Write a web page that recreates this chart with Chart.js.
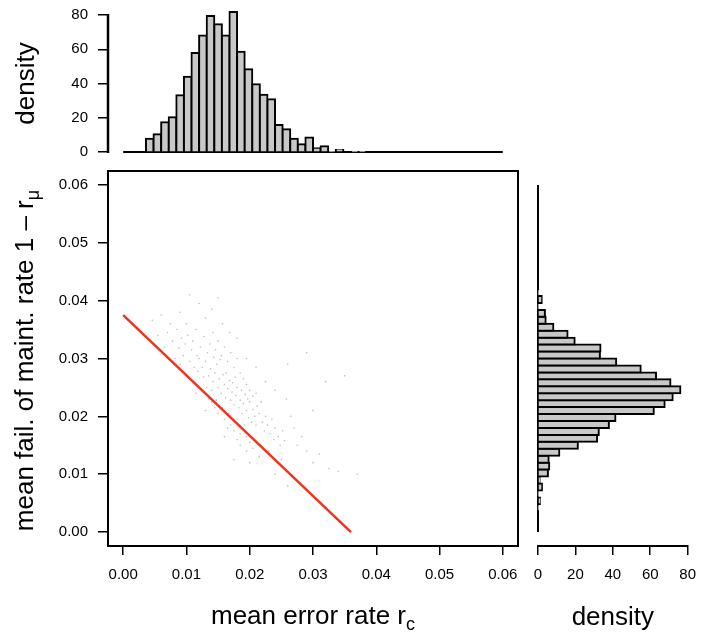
<!DOCTYPE html>
<html>
<head>
<meta charset="utf-8">
<script src="https://cdn.jsdelivr.net/npm/chart.js@4.4.0/dist/chart.umd.min.js"></script>
<style>
  html, body { margin: 0; padding: 0; background: #fff; }
  #wrap { position: relative; width: 707px; height: 641px; }
  #wrap canvas { position: absolute; left: 0; top: 0; }
</style>
</head>
<body>
<div id="wrap">
  <canvas id="mainChart" width="707" height="641"></canvas>
  <canvas id="sideChart" width="707" height="641"></canvas>
  <canvas id="topChart" width="707" height="641"></canvas>
</div>
<script>
// --- Datos ---
// histograma superior: centro de cada clase (ancho 0.0012) y densidad
const errBinMid = [0.0042, 0.0054, 0.0066, 0.0078, 0.0090, 0.0102, 0.0114, 0.0126, 0.0138, 0.0150,
  0.0162, 0.0174, 0.0186, 0.0198, 0.0210, 0.0222, 0.0234, 0.0246, 0.0258, 0.0270,
  0.0282, 0.0294, 0.0306, 0.0318, 0.0330, 0.0342, 0.0354, 0.0366, 0.0378];
const errDensity = [7.8, 10.3, 17.3, 20.3, 33.1, 44.0, 57.8, 68.1, 79.4, 74.6,
  68.0, 81.8, 58.6, 48.3, 39.5, 33.5, 30.8, 15.8, 13.3, 7.8,
  4.5, 8.4, 2.2, 3.3, 0.4, 1.2, 0, 0.4, 0.4];

// histograma lateral (1 - r_mu)
const failBinMid = [0.0042, 0.0054, 0.0066, 0.0078, 0.0090, 0.0102, 0.0114, 0.0126, 0.0138, 0.0150,
  0.0162, 0.0174, 0.0186, 0.0198, 0.0210, 0.0222, 0.0234, 0.0246, 0.0258, 0.0270,
  0.0282, 0.0294, 0.0306, 0.0318, 0.0330, 0.0342, 0.0354, 0.0366, 0.0378, 0.0390,
  0.0402, 0.0414];
const failDensity = [0.3, 1.0, 0.3, 2.1, 0.9, 5.3, 6.0, 5.7, 11.4, 21.3,
  31.6, 32.5, 37.9, 41.4, 61.9, 67.7, 72.0, 76.1, 70.8, 63.1,
  54.9, 41.8, 33.1, 33.4, 19.6, 15.8, 8.2, 4.1, 3.7, 0.3,
  2.0, 0.4];

// nube de puntos (estimada a ojo)
const cloud = [
  [0.0120,0.0300],[0.0125,0.0285],[0.0130,0.0295],[0.0135,0.0270],[0.0138,0.0282],[0.0142,0.0260],
  [0.0145,0.0275],[0.0148,0.0290],[0.0150,0.0250],[0.0152,0.0265],[0.0155,0.0240],[0.0158,0.0272],
  [0.0160,0.0255],[0.0162,0.0232],[0.0165,0.0248],[0.0168,0.0262],[0.0170,0.0228],[0.0172,0.0242],
  [0.0175,0.0220],[0.0178,0.0236],[0.0180,0.0250],[0.0183,0.0215],[0.0185,0.0228],[0.0188,0.0205],
  [0.0190,0.0222],[0.0193,0.0238],[0.0195,0.0210],[0.0198,0.0198],[0.0200,0.0225],[0.0203,0.0190],
  [0.0205,0.0212],[0.0208,0.0200],[0.0210,0.0185],[0.0140,0.0245],[0.0133,0.0310],[0.0127,0.0268],
  [0.0118,0.0278],[0.0147,0.0228],[0.0157,0.0215],[0.0163,0.0275],[0.0173,0.0258],[0.0181,0.0195],
  [0.0192,0.0185],[0.0167,0.0205],[0.0153,0.0298],[0.0143,0.0302],[0.0177,0.0268],[0.0187,0.0245],
  [0.0197,0.0230],[0.0212,0.0218],
  [0.0070,0.0345],[0.0078,0.0330],[0.0085,0.0350],[0.0088,0.0318],[0.0092,0.0335],[0.0095,0.0305],
  [0.0098,0.0325],[0.0102,0.0340],[0.0105,0.0295],[0.0108,0.0315],[0.0110,0.0330],[0.0112,0.0285],
  [0.0115,0.0350],[0.0117,0.0305],[0.0122,0.0320],[0.0128,0.0338],[0.0132,0.0250],[0.0137,0.0325],
  [0.0142,0.0345],[0.0146,0.0315],[0.0150,0.0330],[0.0155,0.0305],[0.0160,0.0320],[0.0165,0.0295],
  [0.0170,0.0310],[0.0175,0.0285],[0.0180,0.0300],[0.0185,0.0275],[0.0190,0.0265],[0.0195,0.0255],
  [0.0200,0.0245],[0.0205,0.0235],[0.0210,0.0240],[0.0215,0.0205],[0.0218,0.0225],[0.0220,0.0190],
  [0.0223,0.0175],[0.0225,0.0200],[0.0228,0.0185],[0.0232,0.0170],[0.0235,0.0195],[0.0238,0.0160],
  [0.0240,0.0180],[0.0245,0.0165],[0.0248,0.0150],[0.0252,0.0175],[0.0255,0.0158],[0.0150,0.0205],
  [0.0145,0.0215],[0.0140,0.0225],[0.0135,0.0230],[0.0160,0.0195],[0.0170,0.0185],[0.0175,0.0175],
  [0.0185,0.0170],[0.0195,0.0165],[0.0200,0.0155],[0.0205,0.0145],[0.0180,0.0160],[0.0165,0.0180],
  [0.0046,0.0366],[0.0055,0.0340],[0.0060,0.0375],[0.0065,0.0320],[0.0075,0.0360],[0.0082,0.0300],
  [0.0090,0.0380],[0.0100,0.0360],[0.0105,0.0410],[0.0120,0.0395],[0.0130,0.0370],[0.0140,0.0385],
  [0.0150,0.0405],[0.0157,0.0360],[0.0168,0.0345],[0.0180,0.0335],[0.0195,0.0300],[0.0210,0.0285],
  [0.0225,0.0260],[0.0240,0.0245],[0.0258,0.0230],[0.0265,0.0200],[0.0270,0.0180],[0.0275,0.0150],
  [0.0282,0.0165],[0.0290,0.0140],[0.0300,0.0120],[0.0310,0.0135],[0.0325,0.0110],[0.0340,0.0105],
  [0.0370,0.0100],[0.0250,0.0125],[0.0230,0.0140],[0.0215,0.0130],[0.0195,0.0140],[0.0185,0.0150],
  [0.0160,0.0165],[0.0130,0.0210],[0.0115,0.0240],[0.0100,0.0270],[0.0090,0.0290],[0.0300,0.0210],
  [0.0320,0.0260],[0.0350,0.0270],[0.0290,0.0310],[0.0260,0.0290],[0.0240,0.0100],[0.0200,0.0120],
  [0.0260,0.0080],[0.0175,0.0125]
];

// recta roja
const lineX = [0, 0.036];
const lineY = [0.0375, 0];

// marcas y límites de los ejes
const rateTicks = [0, 0.01, 0.02, 0.03, 0.04, 0.05, 0.06];
const densTicks = [0, 20, 40, 60, 80];
const rateRange = [0, 0.06];
const rateLimits = [-0.0024, 0.0624];

// --- Configuración común ---
Chart.defaults.font.family = '"Liberation Sans", Arial, Helvetica, sans-serif';
Chart.defaults.font.size = 15;
Chart.defaults.color = '#000';

const FONT = '"Liberation Sans", Arial, Helvetica, sans-serif';
const fixTicks = vals => scale => { scale.ticks = vals.map(v => ({ value: v })); };
const tickGrid = { drawOnChartArea: false, color: '#000', lineWidth: 1.5, offset: false };
const noPlugins = { legend: { display: false }, tooltip: { enabled: false } };
const blackLine = { type: 'line', borderColor: '#000', borderWidth: 2, pointRadius: 0, clip: false };

// caja alrededor del panel principal
const boxPlugin = {
  id: 'box',
  afterDatasetsDraw(chart) {
    const { ctx, chartArea: a } = chart;
    ctx.save();
    ctx.strokeStyle = '#000';
    ctx.lineWidth = 2;
    ctx.strokeRect(a.left, a.top, a.right - a.left, a.bottom - a.top);
    ctx.restore();
  }
};

// texto con subíndice
function drawRich(ctx, parts, cx, cy, rot) {
  ctx.save();
  ctx.translate(cx, cy);
  ctx.rotate(rot);
  ctx.textBaseline = 'middle';
  ctx.textAlign = 'left';
  ctx.fillStyle = '#000';
  let total = 0;
  parts.forEach(p => {
    ctx.font = (p.sub ? 18 : 26) + 'px ' + FONT;
    p.w = ctx.measureText(p.t).width;
    total += p.w;
  });
  let x = -total / 2;
  parts.forEach(p => {
    ctx.font = (p.sub ? 18 : 26) + 'px ' + FONT;
    ctx.fillText(p.t, x, p.sub ? 8 : 0);
    x += p.w;
  });
  ctx.restore();
}

const titlesPlugin = {
  id: 'titles',
  afterDraw(chart) {
    const a = chart.chartArea;
    drawRich(chart.ctx, [{ t: 'mean error rate r' }, { t: 'c', sub: true }],
      (a.left + a.right) / 2, 617, 0);
    drawRich(chart.ctx, [{ t: 'mean fail. of maint. rate 1 \u2013 r' }, { t: '\u03bc', sub: true }],
      26, (a.top + a.bottom) / 2 + 2, -Math.PI / 2);
  }
};

// línea del eje de densidad (de la primera a la última marca)
const densAxisLine = {
  id: 'densAxisLine',
  afterDraw(chart) {
    const s = chart.scales.y;
    const ctx = chart.ctx;
    ctx.save();
    ctx.strokeStyle = '#000';
    ctx.lineWidth = 2.5;
    ctx.beginPath();
    ctx.moveTo(s.right, s.getPixelForValue(densTicks[0]) + 1);
    ctx.lineTo(s.right, s.getPixelForValue(densTicks[densTicks.length - 1]) - 1);
    ctx.stroke();
    ctx.restore();
  }
};

// --- Panel principal ---
new Chart(document.getElementById('mainChart'), {
  type: 'scatter',
  data: {
    datasets: [
      {
        data: cloud.map(p => ({ x: p[0], y: p[1] })),
        pointRadius: 0.8,
        pointBorderWidth: 0,
        pointBackgroundColor: 'rgba(90,90,90,0.4)'
      },
      {
        type: 'line',
        data: lineX.map((x, i) => ({ x: x, y: lineY[i] })),
        borderColor: '#f4321c',
        borderWidth: 2.5,
        pointRadius: 0,
        fill: false
      }
    ]
  },
  options: {
    responsive: false,
    animation: false,
    layout: { padding: { left: 0, right: 189, top: 171, bottom: 0 } },
    plugins: noPlugins,
    scales: {
      x: {
        type: 'linear', min: rateLimits[0], max: rateLimits[1],
        afterBuildTicks: fixTicks(rateTicks),
        afterFit: s => { s.height = 95; },
        border: { display: false },
        grid: Object.assign({ tickLength: 9 }, tickGrid),
        ticks: { padding: 11, autoSkip: false, maxRotation: 0, callback: v => v.toFixed(2) }
      },
      y: {
        type: 'linear', min: rateLimits[0], max: rateLimits[1],
        afterBuildTicks: fixTicks(rateTicks),
        afterFit: s => { s.width = 108; },
        border: { display: false },
        grid: Object.assign({ tickLength: 10 }, tickGrid),
        ticks: { padding: 10, autoSkip: false, callback: v => v.toFixed(2) }
      }
    }
  },
  plugins: [boxPlugin, titlesPlugin]
});

// --- Histograma lateral ---
new Chart(document.getElementById('sideChart'), {
  type: 'bar',
  data: {
    datasets: [
      {
        data: failBinMid.map((y, i) => ({ x: failDensity[i], y: y })),
        backgroundColor: '#c8c8c8',
        borderColor: '#000',
        borderWidth: 2,
        inflateAmount: 1,
        barPercentage: 1,
        categoryPercentage: 1,
        clip: false
      },
      Object.assign({ data: rateRange.map(y => ({ x: 0, y: y })) }, blackLine)
    ]
  },
  options: {
    indexAxis: 'y',
    responsive: false,
    animation: false,
    layout: { padding: { left: 538, right: 19, top: 171, bottom: 0 } },
    plugins: noPlugins,
    scales: {
      y: {
        type: 'linear', min: rateLimits[0], max: rateLimits[1], display: false, offset: false,
        afterBuildTicks: fixTicks(rateTicks)
      },
      x: {
        type: 'linear', min: 0, max: 80, position: 'bottom',
        afterBuildTicks: fixTicks(densTicks),
        afterFit: s => { s.height = 95; },
        border: { display: true, color: '#000', width: 2 },
        grid: Object.assign({ tickLength: 9 }, tickGrid),
        ticks: { padding: 11, autoSkip: false, maxRotation: 0 },
        title: { display: true, text: 'density', font: { size: 26 }, padding: { bottom: 8 } }
      }
    }
  }
});

// --- Histograma superior ---
new Chart(document.getElementById('topChart'), {
  type: 'bar',
  data: {
    datasets: [
      {
        data: errBinMid.map((x, i) => ({ x: x, y: errDensity[i] })),
        backgroundColor: '#c8c8c8',
        borderColor: '#000',
        borderWidth: 2,
        inflateAmount: 1,
        barPercentage: 1,
        categoryPercentage: 1,
        clip: false
      },
      // línea base (densidad 0)
      Object.assign({ data: rateRange.map(x => ({ x: x, y: 0 })) }, blackLine)
    ]
  },
  options: {
    responsive: false,
    animation: false,
    layout: { padding: { left: 0, right: 189, top: 15, bottom: 489 } },
    plugins: noPlugins,
    scales: {
      x: {
        type: 'linear', min: rateLimits[0], max: rateLimits[1], display: false, offset: false,
        afterBuildTicks: fixTicks(rateTicks)
      },
      y: {
        type: 'linear', min: 0, max: 80,
        afterBuildTicks: fixTicks(densTicks),
        afterFit: s => { s.width = 108; s.paddingTop = 0; },
        border: { display: true, color: '#000', width: 2 },
        grid: Object.assign({ tickLength: 10 }, tickGrid),
        ticks: { padding: 10, autoSkip: false },
        title: { display: true, text: 'density', font: { size: 26 }, padding: { top: 11 } }
      }
    }
  },
  plugins: [densAxisLine]
});
</script>
</body>
</html>
